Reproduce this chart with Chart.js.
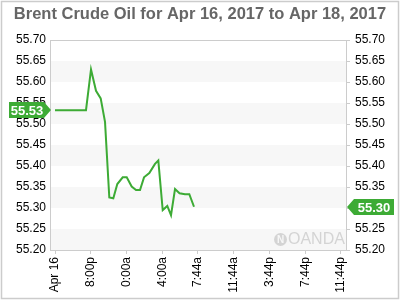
<!DOCTYPE html>
<html>
<head>
<meta charset="utf-8">
<style>
html,body{margin:0;padding:0;background:#fff;}
#wrap{position:relative;width:400px;height:300px;}
</style>
<script src="https://cdn.jsdelivr.net/npm/chart.js@4.4.0/dist/chart.umd.min.js"></script>
</head>
<body>
<div id="wrap"><canvas id="c" width="400" height="300"></canvas></div>
<script>
const titleText = 'Brent Crude Oil for Apr 16, 2017 to Apr 18, 2017';
const tickLabels = ['Apr 16','8:00p','0:00a','4:00a','7:44a','11:44a','3:44p','7:44p','11:44p'];
const xPos = [0,0.867,1.007,1.147,1.278,1.399,1.519,1.631,1.743,1.894,2.006,2.145,2.266,2.378,2.49,2.638,2.797,2.89,3.013,3.141,3.245,3.357,3.483,3.636,3.757,3.888];
const prices = [55.533,55.533,55.630,55.579,55.561,55.505,55.325,55.323,55.357,55.373,55.373,55.351,55.343,55.343,55.373,55.383,55.405,55.413,55.295,55.305,55.283,55.345,55.335,55.333,55.333,55.303];
const openLabel = '55.53';
const openValue = 55.533;
const lastLabel = '55.30';
const lastValue = 55.303;
const yMin = 55.20, yMax = 55.70, yStep = 0.05;

const GREEN = '#3dab35';
const FONT = '"Liberation Sans", Arial, sans-serif';

const points = xPos.map((x,i)=>({x:x, y:prices[i]}));

const decor = {
  id:'decor',
  beforeDatasetsDraw(chart){
    const ctx = chart.ctx, a = chart.chartArea, y = chart.scales.y;
    ctx.save();
    ctx.fillStyle = '#f7f7f7';
    for (let v = yMin; v < yMax - 1e-9; v += 2*yStep){
      const t = y.getPixelForValue(v + yStep), b = y.getPixelForValue(v);
      ctx.fillRect(a.left, t, a.right - a.left, b - t);
    }
    // watermark
    ctx.fillStyle = '#d4d4d4';
    ctx.beginPath();
    ctx.arc(280.5, 239.5, 6.5, 0, Math.PI*2);
    ctx.fill();
    ctx.fillStyle = '#f7f7f7';
    ctx.font = 'bold 10px ' + FONT;
    ctx.textAlign = 'center'; ctx.textBaseline = 'middle';
    ctx.fillText('N', 280.5, 240);
    ctx.fillStyle = '#d4d4d4';
    ctx.font = '16px ' + FONT;
    ctx.textAlign = 'left';
    ctx.fillText('OANDA', 288, 240);
    ctx.strokeStyle = '#cccccc';
    ctx.lineWidth = 1;
    ctx.strokeRect(Math.round(a.left)+0.5, Math.round(a.top)+0.5, Math.round(a.right-a.left), Math.round(a.bottom-a.top));
    ctx.restore();
  },
  afterDraw(chart){
    const ctx = chart.ctx, y = chart.scales.y;
    ctx.save();
    ctx.fillStyle = '#666666';
    ctx.font = 'bold 16.5px ' + FONT;
    ctx.textAlign = 'center'; ctx.textBaseline = 'middle';
    ctx.fillText(titleText, 200, 14);
    ctx.strokeStyle = '#cccccc';
    ctx.lineWidth = 1.5;
    ctx.strokeRect(1.5, 1.5, 397, 297);
    const yo = Math.round(y.getPixelForValue(openValue));
    ctx.fillStyle = GREEN;
    ctx.beginPath();
    ctx.moveTo(9, yo-8); ctx.lineTo(44, yo-8); ctx.lineTo(51, yo); ctx.lineTo(44, yo+8); ctx.lineTo(9, yo+8); ctx.closePath();
    ctx.fill();
    ctx.fillStyle = '#fff';
    ctx.font = 'bold 13px ' + FONT;
    ctx.textAlign = 'center'; ctx.textBaseline = 'middle';
    ctx.fillText(openLabel, 27, yo+1);
    const yl = Math.round(y.getPixelForValue(lastValue));
    ctx.fillStyle = GREEN;
    ctx.beginPath();
    ctx.moveTo(347, yl); ctx.lineTo(354, yl-8); ctx.lineTo(394, yl-8); ctx.lineTo(394, yl+8); ctx.lineTo(354, yl+8); ctx.closePath();
    ctx.fill();
    ctx.fillStyle = '#fff';
    ctx.fillText(lastLabel, 374, yl+1);
    ctx.restore();
  }
};

new Chart(document.getElementById('c'), {
  type:'line',
  data:{datasets:[{data:points, borderColor:GREEN, borderWidth:2, pointRadius:0, tension:0, fill:false}]},
  options:{
    responsive:false, animation:false, devicePixelRatio:1,
    layout:{padding:{top:40, left:0, right:0, bottom:0}},
    plugins:{legend:{display:false}, tooltip:{enabled:false}, title:{display:false}},
    scales:{
      x:{type:'linear', min:-0.14, max:8.14,
         afterBuildTicks(s){ s.ticks = tickLabels.map((_,i)=>({value:i})); },
         afterFit(s){ s.height = 50; },
         grid:{display:true, drawOnChartArea:false, drawTicks:true, tickLength:4, color:'#cccccc'},
         border:{display:false},
         ticks:{autoSkip:false, maxRotation:90, minRotation:90, padding:3, color:'#000', font:{family:FONT, size:12},
                callback(v){ const i = Math.round(v); return tickLabels[i] !== undefined ? tickLabels[i] : ''; }}},
      y:{position:'left', min:yMin, max:yMax,
         afterBuildTicks(s){ const t=[]; for(let v=yMin; v<=yMax+1e-9; v+=yStep) t.push({value:+v.toFixed(2)}); s.ticks=t; },
         afterFit(s){ s.width = 50; },
         grid:{display:false, drawTicks:false}, border:{display:false},
         ticks:{padding:4, color:'#000', font:{family:FONT, size:12}, callback(v){ return Number(v).toFixed(2); }}},
      y2:{position:'right', min:yMin, max:yMax,
         afterBuildTicks(s){ const t=[]; for(let v=yMin; v<=yMax+1e-9; v+=yStep) t.push({value:+v.toFixed(2)}); s.ticks=t; },
         afterFit(s){ s.width = 54; },
         grid:{display:true, drawOnChartArea:false, drawTicks:true, tickLength:4, color:'#cccccc'}, border:{display:false},
         ticks:{padding:5, color:'#000', font:{family:FONT, size:12}, callback(v){ return Number(v).toFixed(2); }}}
    }
  },
  plugins:[decor]
});
</script>
</body>
</html>
